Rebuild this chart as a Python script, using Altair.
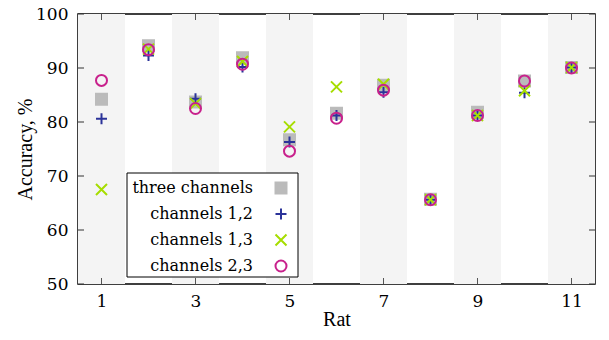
import altair as alt
import pandas as pd

rats = [1, 2, 3, 4, 5, 6, 7, 8, 9, 10, 11]
series_names = ["three channels", "channels 1,2", "channels 1,3", "channels 2,3"]
three_channels = [84.2, 94.1, 83.7, 91.9, 76.7, 81.6, 86.8, 65.7, 81.8, 87.6, 90.1]
channels_12 = [80.6, 92.3, 84.3, 90.2, 76.3, 81.2, 85.5, 65.6, 81.2, 85.4, 90.1]
channels_13 = [67.5, 93.5, 83.4, 91.2, 79.1, 86.5, 87.0, 65.6, 81.2, 85.8, 90.1]
channels_23 = [87.7, 93.4, 82.5, 90.7, 74.6, 80.7, 85.9, 65.6, 81.2, 87.6, 90.0]
y_ticks = [50, 60, 70, 80, 90, 100]
x_ticks = [1, 3, 5, 7, 9, 11]

colors = ["#bbbbbb", "#2b3399", "#a6dd00", "#c8218c"]
fills = ["#bbbbbb", "transparent", "transparent", "transparent"]
shapes = ["square", "M-1,0H1M0,-1V1", "M-1,-1L1,1M-1,1L1,-1", "circle"]

rows = []
for name, vals in zip(series_names, [three_channels, channels_12, channels_13, channels_23]):
    for r, v in zip(rats, vals):
        rows.append({"rat": r, "acc": v, "series": name})
df = pd.DataFrame(rows)

bands = pd.DataFrame({"x0": [k - 0.5 for k in x_ticks], "x1": [k + 0.5 for k in x_ticks]})
yt = pd.DataFrame({"y": y_ticks})
xt = pd.DataFrame({"x": x_ticks})

W, H = 517, 270
FONT = "Liberation Serif, Times New Roman, Times, DejaVu Serif, serif"
LFONT = "DejaVu Serif"

xscale = alt.Scale(domain=[0.5, 11.5], nice=False, zero=False)
yscale = alt.Scale(domain=[50, 100], nice=False, zero=False)

band_layer = alt.Chart(bands).mark_rect(color="#f4f4f4").encode(
    x=alt.X("x0:Q", scale=xscale, title="Rat",
            axis=alt.Axis(values=x_ticks, ticks=False, domain=False, grid=False,
                          labelFont=LFONT, labelFontSize=17, labelColor="black",
                          labelPadding=9, titleFont=FONT, titleFontSize=20,
                          titleFontWeight="normal", titleColor="black",
                          titleBaseline="alphabetic", titleY=41)),
    x2="x1:Q",
    y=alt.value(0),
    y2=alt.value(H),
)

ytick_l = alt.Chart(yt).mark_rule(color="#333333", strokeWidth=1).encode(
    y=alt.Y("y:Q", scale=yscale, title="Accuracy, %",
            axis=alt.Axis(values=y_ticks, ticks=False, domain=False, grid=False,
                          labelFont=LFONT, labelFontSize=17, labelColor="black",
                          labelPadding=10, titleFont=FONT, titleFontSize=20,
                          titleFontWeight="normal", titleColor="black",
                          titleBaseline="alphabetic", titleX=-47, titleAngle=270)),
    x=alt.value(0), x2=alt.value(6),
)
ytick_r = alt.Chart(yt).mark_rule(color="#333333", strokeWidth=1).encode(
    y=alt.Y("y:Q", scale=yscale), x=alt.value(W - 6), x2=alt.value(W),
)
xtick_b = alt.Chart(xt).mark_rule(color="#555555", strokeWidth=1).encode(
    x=alt.X("x:Q", scale=xscale), y=alt.value(H - 6), y2=alt.value(H),
)
xtick_t = alt.Chart(xt).mark_rule(color="#555555", strokeWidth=1).encode(
    x=alt.X("x:Q", scale=xscale), y=alt.value(0), y2=alt.value(6),
)

legend_box = alt.Chart(pd.DataFrame({"k": [0]})).mark_rect(
    fill="white", stroke="black", strokeWidth=1
).encode(x=alt.value(49), x2=alt.value(220), y=alt.value(159), y2=alt.value(263))

points = alt.Chart(df).mark_point(size=121, strokeWidth=2, opacity=1).encode(
    x=alt.X("rat:Q", scale=xscale),
    y=alt.Y("acc:Q", scale=yscale),
    color=alt.Color("series:N", scale=alt.Scale(domain=series_names, range=colors), title=None),
    shape=alt.Shape("series:N", scale=alt.Scale(domain=series_names, range=shapes), title=None),
    fill=alt.Fill("series:N", scale=alt.Scale(domain=series_names, range=fills), title=None),
)

chart = alt.layer(band_layer, xtick_b, xtick_t, ytick_l, ytick_r, legend_box, points).properties(
    width=W, height=H,
    autosize=alt.AutoSizeParams(type="none"),
    padding={"left": 70, "top": 6, "right": 6, "bottom": 48},
).configure_view(stroke="black", strokeWidth=1.5).configure_legend(
    orient="none", legendX=189, legendY=160, padding=6,
    labelFont=LFONT, labelFontSize=16, labelColor="black",
    labelAlign="right", labelOffset={"expr": "-36"}, symbolStrokeWidth=2, symbolSize=121,
    rowPadding=6,
)

chart.save("out.html", embed_options={"renderer": "svg", "actions": False})
